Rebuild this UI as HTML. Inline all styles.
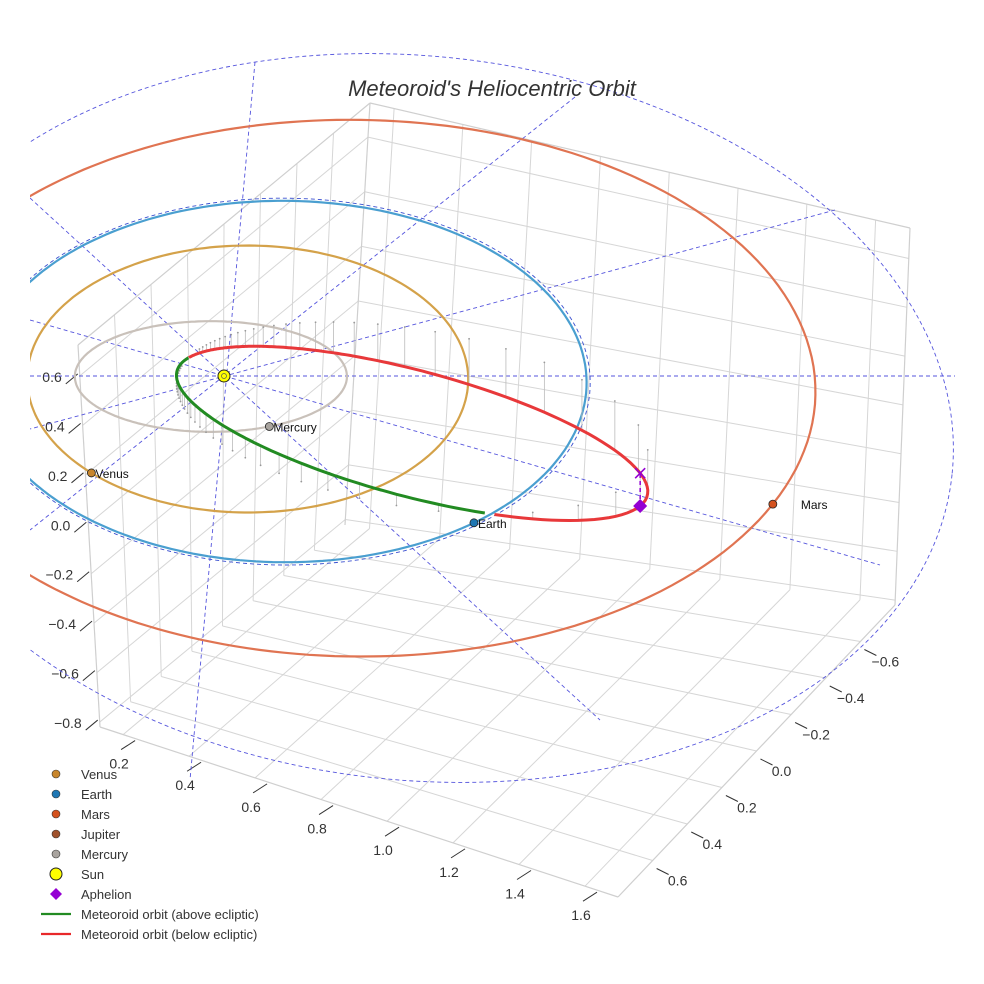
<!DOCTYPE html>
<html><head><meta charset="utf-8"><style>
body{margin:0;background:#fff;}
svg{display:block;font-family:"Liberation Sans",sans-serif;}
</style></head><body>
<svg id="chart" width="984" height="984" viewBox="0 0 984 984" xmlns="http://www.w3.org/2000/svg">
<rect width="984" height="984" fill="#fff"/>
<g id="grid"></g>
<g id="guides"></g>
<g id="orbits"></g>
<g id="meteor"></g>
<g id="planets"></g>
<text x="492" y="96" text-anchor="middle" font-size="22" font-style="italic" fill="#333">Meteoroid's Heliocentric Orbit</text>
<g id="legend"></g>
</svg>
<script>
// ---- data ----
const planetNames = ["Mercury","Venus","Earth","Mars"];
const planetA = [0.48, 0.75, 1.0, 1.45];
const planetCenterX = [-0.09, -0.03, 0.0, 0.0];
const planetYScale = [0.66, 1.0, 1.0, 1.0];
const planetAngleDeg = [60, 128, 44, 21];
const planetOrbitColors = ["#c9c1ba","#d4a24a","#4a9fd0","#e07452"];
const planetMarkerColors = ["#a9a49f","#c8862c","#1f77b4","#d4521e"];
const meteorPerihelion = 0.16;
const meteorAphelion = 1.18;
const meteorPeriAngleDeg = 201;
const meteorInclDeg = 15;
const xTicks = [0.2,0.4,0.6,0.8,1.0,1.2,1.4,1.6];
const yTicks = [-0.6,-0.4,-0.2,0.0,0.2,0.4,0.6];
const zTicks = [-0.8,-0.6,-0.4,-0.2,0.0,0.2,0.4,0.6];
const xRange = [0.13,1.7], yRange=[-0.8,0.8], zRange=[-0.82,0.725];
const legendLabels = ["Venus","Earth","Mars","Jupiter","Mercury","Sun","Aphelion","Meteoroid orbit (above ecliptic)","Meteoroid orbit (below ecliptic)"];
const legendColors = ["#c8862c","#1f77b4","#d4521e","#a0522d","#a9a49f","#ffff00","#9400d3","#228b22","#e8282a"];

const NS="http://www.w3.org/2000/svg";
function mk(tag,attrs,parent){const e=document.createElementNS(NS,tag);for(const k in attrs)e.setAttribute(k,attrs[k]);parent.appendChild(e);return e;}
const SX=224, SY=376;
function proj(x,y,z){const p=1/(1-0.197*x-0.03*y);return [SX+291*x*p, SY+(177*y-250*z)*p];}
function pts(arr){return arr.map(q=>q[0].toFixed(1)+","+q[1].toFixed(1)).join(" ");}

// ---- box grid ----
const grid=document.getElementById('grid');
const F1=[100,727],F2=[618,897],F3=[895,605],F4=[345,525],T1=[78,345],T3=[910,228],T4=[370,103];
function lerp(a,b,t){return [a[0]+(b[0]-a[0])*t,a[1]+(b[1]-a[1])*t];}
function line(a,b,stroke,w,parent,name){const l=mk('line',{x1:a[0],y1:a[1],x2:b[0],y2:b[1],stroke:stroke,'stroke-width':w},parent);return l;}
const tx=v=>(v-xRange[0])/(xRange[1]-xRange[0]);
const ty=v=>(v-yRange[0])/(yRange[1]-yRange[0]);
const tz=v=>(v-zRange[0])/(zRange[1]-zRange[0]);
const G="#d6d6d6";
xTicks.forEach(v=>{const t=tx(v);line(lerp(F1,F2,t),lerp(F4,F3,t),G,1,grid,'floor-x-gridline');line(lerp(F4,F3,t),lerp(T4,T3,t),G,1,grid,'back-x-gridline');});
yTicks.forEach(v=>{const t=ty(v);line(lerp(F4,F1,t),lerp(F3,F2,t),G,1,grid,'floor-y-gridline');line(lerp(F4,F1,t),lerp(T4,T1,t),G,1,grid,'left-y-gridline');});
zTicks.forEach(v=>{const t=tz(v);line(lerp(F1,T1,t),lerp(F4,T4,t),G,1,grid,'left-z-gridline');line(lerp(F4,T4,t),lerp(F3,T3,t),G,1,grid,'back-z-gridline');});
[[F1,F2],[F2,F3],[F1,T1],[F3,T3],[T4,T3],[T1,T4],[F4,T4]].forEach(s=>line(s[0],s[1],"#cfcfcf",1.2,grid,'box-edge'));
xTicks.forEach(v=>{const p=lerp(F1,F2,tx(v));line([p[0]-2,p[1]+15],[p[0]+12,p[1]+6],"#333",1,grid,'x-tick');
 const t=mk('text',{x:p[0]-4,y:p[1]+34,'font-size':14,fill:'#333','text-anchor':'middle'},grid);t.textContent=v.toFixed(1);});
yTicks.forEach(v=>{const p=lerp(F3,F2,ty(v));line([p[0]+4,p[1]+8],[p[0]+16,p[1]+14],"#333",1,grid,'y-tick');
 const t=mk('text',{x:p[0]+25,y:p[1]+25,'font-size':14,fill:'#333','text-anchor':'middle'},grid);t.textContent=(v<0?'\u2212':'')+Math.abs(v).toFixed(1);});
zTicks.forEach(v=>{const p=lerp(F1,T1,tz(v));line([p[0]-14,p[1]+8],[p[0]-2,p[1]-2],"#333",1,grid,'z-tick');
 const t=mk('text',{x:p[0]-18,y:p[1]+6,'font-size':14,fill:'#333','text-anchor':'end'},grid);t.textContent=(v<0?'\u2212':'')+Math.abs(v).toFixed(1);});

// ---- guides ----
const guides=document.getElementById('guides');
const gAttr={stroke:'#5555dd','stroke-width':0.9,'stroke-dasharray':'4,3',fill:'none'};
const guideEnds=[[30,376,955,376],[30,320,880,565],[30,198,600,720],[255,62,190,780],[575,97,30,530],[835,210,30,429]];
guideEnds.forEach(e=>{const l=mk('line',Object.assign({x1:e[0],y1:e[1],x2:e[2],y2:e[3]},gAttr),guides);});
const big=mk('ellipse',Object.assign({cx:415,cy:418,rx:540,ry:362,transform:'rotate(6 415 418)'},gAttr),guides);

const cp=mk('clipPath',{id:'clipv'},document.getElementById('chart'));mk('rect',{x:30,y:0,width:925,height:984},cp);
guides.setAttribute('clip-path','url(#clipv)');

// ---- planet orbits ----
const orbits=document.getElementById('orbits');orbits.setAttribute('clip-path','url(#clipv)');
function ppos(i,a){return [planetCenterX[i]+planetA[i]*Math.cos(a),planetA[i]*Math.sin(a)*planetYScale[i]];}
planetNames.forEach((n,i)=>{const P=[];for(let k=0;k<=240;k++){const a=k/240*2*Math.PI;const q=ppos(i,a);P.push(proj(q[0],q[1],0));}
 const pl=mk('polyline',{points:pts(P),fill:'none',stroke:planetOrbitColors[i],'stroke-width':2.2},orbits);
 
 if(n==="Earth"){const P2=P.map(q=>[q[0]+(q[0]-SX)*0.01,q[1]+(q[1]-SY)*0.015]);const d=mk('polyline',{points:pts(P2),fill:'none',stroke:'#3a4fd0','stroke-width':0.9,'stroke-dasharray':'4,3'},orbits);}
});

// ---- meteoroid ----
const meteor=document.getElementById('meteor');
const ma=(meteorPerihelion+meteorAphelion)/2, me=(meteorAphelion-meteorPerihelion)/(meteorAphelion+meteorPerihelion), mp=ma*(1-me*me);
const w=meteorPeriAngleDeg*Math.PI/180, inc=meteorInclDeg*Math.PI/180;
const nn=-Math.acos(Math.max(-1,(mp-1)/me));
function mpos(nu){const r=mp/(1+me*Math.cos(nu));const z=r*Math.sin(inc)*Math.sin(nu-nn);return [r*Math.cos(nu+w),r*Math.sin(nu+w),z];}
const green=[],red=[];
for(let k=0;k<=360;k++){const nu=-Math.PI+k/360*2*Math.PI;const q=mpos(nu);const s=proj(q[0],q[1],q[2]);(q[2]>=0?green:red).push([nu,s,q]);}
for(let k=0;k<72;k++){const nu=-Math.PI+k/72*2*Math.PI;const q=mpos(nu);const a=proj(q[0],q[1],q[2]),b=proj(q[0],q[1],0);
 if(Math.abs(a[1]-b[1])<3)continue;line(a,b,'#bbb',0.8,meteor,'z-stem');const c=mk('circle',{cx:b[0],cy:b[1],r:0.9,fill:'#999'},meteor);}
function seg(list){const out=[];let cur=[];for(let i=0;i<list.length;i++){if(i>0&&list[i][0]-list[i-1][0]>0.05){out.push(cur);cur=[];}cur.push(list[i][1]);}out.push(cur);
 if(out.length>1&&list[0][0]<-3.1&&list[list.length-1][0]>3.1){const f=out.shift();out[out.length-1]=out[out.length-1].concat(f);}return out;}
seg(green).forEach(s=>{const p=mk('polyline',{points:pts(s),fill:'none',stroke:'#228b22','stroke-width':3},meteor);});
seg(red).forEach(s=>{const p=mk('polyline',{points:pts(s),fill:'none',stroke:'#e8383a','stroke-width':3},meteor);});
const ap=mpos(Math.PI);const aps=proj(ap[0],ap[1],ap[2]),apx=proj(ap[0],ap[1],0);
const dl=mk('line',{x1:aps[0],y1:aps[1],x2:apx[0],y2:apx[1],stroke:'#9400d3','stroke-width':1.5,'stroke-dasharray':'4,3'},meteor);
const xm=mk('path',{d:`M${apx[0]-5},${apx[1]-5}L${apx[0]+5},${apx[1]+5}M${apx[0]+5},${apx[1]-5}L${apx[0]-5},${apx[1]+5}`,stroke:'#9400d3','stroke-width':1.6},meteor);
const dm=mk('path',{d:`M${aps[0]},${aps[1]-7}L${aps[0]+7},${aps[1]}L${aps[0]},${aps[1]+7}L${aps[0]-7},${aps[1]}Z`,fill:'#9400d3'},meteor);

// ---- planets ----
const planets=document.getElementById('planets');
planetNames.forEach((n,i)=>{const a=planetAngleDeg[i]*Math.PI/180;const q=ppos(i,a);const s=proj(q[0],q[1],0);
 const c=mk('circle',{cx:s[0],cy:s[1],r:4,fill:planetMarkerColors[i],stroke:'#222','stroke-width':0.8},planets);
 const t=mk('text',{x:s[0]+(n==="Mars"?28:4),y:s[1]+5,'font-size':12,fill:'#111'},planets);t.textContent=n;});
const sun=mk('circle',{cx:SX,cy:SY,r:6,fill:'#ffff00',stroke:'#222','stroke-width':1},planets);
const sun2=mk('circle',{cx:SX,cy:SY,r:2.5,fill:'none',stroke:'#555','stroke-width':0.7},planets);

// ---- legend ----
const lg=document.getElementById('legend');
legendLabels.forEach((lab,i)=>{const y=774+i*20;const g=mk('g',{},lg);
 if(i<5){mk('circle',{cx:56,cy:y,r:4,fill:legendColors[i],stroke:'#333','stroke-width':0.6},g);}
 else if(i===5){mk('circle',{cx:56,cy:y,r:6,fill:legendColors[i],stroke:'#222','stroke-width':1},g);}
 else if(i===6){mk('path',{d:`M56,${y-6}L62,${y}L56,${y+6}L50,${y}Z`,fill:legendColors[i]},g);}
 else {mk('line',{x1:41,y1:y,x2:71,y2:y,stroke:legendColors[i],'stroke-width':2.2},g);}
 const t=mk('text',{x:81,y:y+5,'font-size':13,fill:'#333'},g);t.textContent=lab;});
</script>
</body></html>
